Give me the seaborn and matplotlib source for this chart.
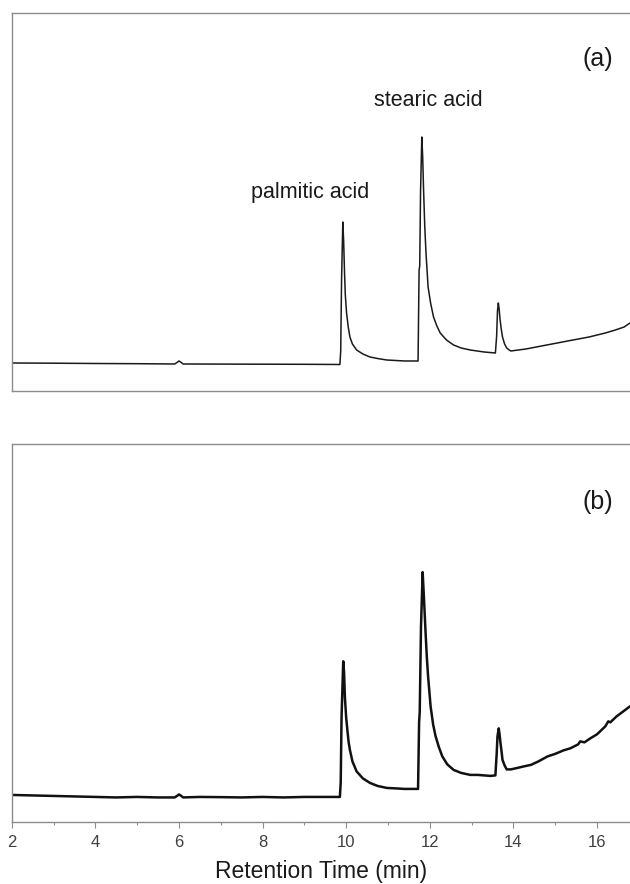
import matplotlib
matplotlib.use("Agg")
import matplotlib.pyplot as plt
import seaborn as sns
import pandas as pd

# retention time (min) and detector signal (arbitrary units)
time_a = [2.0, 3.0, 4.0, 5.0, 5.9, 5.97, 6.0, 6.04, 6.1, 7.0, 8.0, 9.0, 9.85, 9.87, 9.89,
          9.92, 9.94, 9.96, 9.98, 10.01, 10.05, 10.09, 10.15, 10.25, 10.4, 10.57, 10.75,
          10.97, 11.4, 11.72, 11.745, 11.76, 11.78, 11.81, 11.83, 11.85, 11.88, 11.91, 11.96,
          12.02, 12.09, 12.17, 12.25, 12.4, 12.57, 12.75, 12.97, 13.3, 13.57, 13.6, 13.62,
          13.64, 13.66, 13.68, 13.71, 13.74, 13.79, 13.84, 13.9, 13.94, 14.3, 14.8, 15.3,
          15.81, 16.2, 16.44, 16.65, 16.79]
signal_a = [28, 27.8, 27.5, 27.3, 27, 29, 30, 29, 27, 26.9, 26.8, 26.7, 26.5, 40, 110,
            169, 150, 120, 96, 78, 64, 54, 47, 41, 37, 34, 32.5,
            31, 30, 30, 121, 125, 200, 254, 235, 204, 165, 138, 104,
            88, 74, 65, 58, 51, 46, 43, 41, 39, 38, 55, 80,
            88, 82, 72, 62, 54, 47, 43, 41, 40, 42, 46, 50,
            54, 58, 61, 64, 68]

time_b = [2.0, 2.5, 3.0, 3.5, 4.0, 4.5, 5.0, 5.5, 5.9, 5.97, 6.0, 6.04, 6.1, 6.5, 7.0, 7.5,
          8.0, 8.5, 9.0, 9.5, 9.85, 9.87, 9.89, 9.93, 9.95, 9.97, 10.0, 10.03, 10.06, 10.09,
          10.15, 10.25, 10.4, 10.57, 10.75, 10.97, 11.2, 11.4, 11.72, 11.745, 11.76, 11.79,
          11.83, 11.86, 11.90, 11.93, 11.96, 12.02, 12.08, 12.14, 12.22, 12.3, 12.42, 12.57,
          12.75, 12.97, 13.15, 13.3, 13.45, 13.57, 13.6, 13.62, 13.65, 13.67, 13.69, 13.72,
          13.74, 13.79, 13.84, 13.94, 14.1, 14.25, 14.42, 14.6, 14.82, 15.0, 15.2, 15.36,
          15.55, 15.6, 15.7, 15.84, 16.0, 16.1, 16.2, 16.27, 16.32, 16.47, 16.6, 16.79]
signal_b = [27.5, 27, 26.5, 26, 25.5, 25, 25.5, 25, 25, 27, 28, 27, 25, 25.5, 25.3, 25,
            25.5, 25, 25.5, 25.5, 25.5, 40, 105, 161, 150, 125, 105, 92, 80, 72.5,
            61, 51, 44, 39.5, 36.5, 34.5, 34, 33.5, 33.5, 100, 110, 195,
            250, 225, 189.5, 165, 146, 116, 98, 86, 75, 66, 58, 52.5,
            49.5, 47.5, 47.5, 47, 46.5, 47, 68, 86, 94, 88, 80, 70,
            62.5, 57, 53, 53, 54.5, 56, 57.5, 61, 66, 68.5, 72, 74,
            78, 81, 80, 84, 88, 92, 96, 101, 100, 106, 110, 116]

panel_labels = ["(a)", "(b)"]
peak_names = ["palmitic acid", "stearic acid"]
peak_label_pos = [(9.14, 198), (11.96, 290)]

sns.set_theme(style="white")
plt.rcParams["font.family"] = ["Liberation Sans", "DejaVu Sans"]

fig = plt.figure(figsize=(6.3, 8.84), dpi=100)
ax_a = fig.add_axes([0.0186, 0.5577, 0.9814, 0.4276])
ax_b = fig.add_axes([0.0186, 0.0696, 0.9814, 0.4282])

df_a = pd.DataFrame({"time": time_a, "signal": signal_a})
df_b = pd.DataFrame({"time": time_b, "signal": signal_b})

sns.lineplot(data=df_a, x="time", y="signal", ax=ax_a, color="#1a1a1a", linewidth=1.1,
             estimator=None, sort=False)
sns.lineplot(data=df_b, x="time", y="signal", ax=ax_b, color="#111111", linewidth=1.8,
             estimator=None, sort=False)

for ax, lab, ytxt in [(ax_a, panel_labels[0], 332), (ax_b, panel_labels[1], 320)]:
    ax.set_xlim(2, 16.79)
    ax.set_ylim(0, 378)
    ax.set_yticks([])
    ax.set_ylabel("")
    ax.spines["right"].set_visible(False)
    for s in ["left", "top", "bottom"]:
        ax.spines[s].set_color("#8c8c8c")
        ax.spines[s].set_linewidth(1.0)
    ax.text(16.02, ytxt, lab, fontsize=18, color="#1a1a1a", ha="center", va="center")

# top panel: no x ticks
ax_a.set_xticks([])
ax_a.set_xlabel("")
for name, (tx, ty) in zip(peak_names, peak_label_pos):
    ax_a.text(tx, ty, name, fontsize=15.5, color="#1a1a1a", ha="center", va="center")

# bottom panel axis
ax_b.set_xticks([2, 4, 6, 8, 10, 12, 14, 16])
ax_b.set_xticks([3, 5, 7, 9, 11, 13, 15], minor=True)
ax_b.tick_params(axis="x", which="major", direction="out", length=4, width=0.8,
                 color="#8c8c8c", labelsize=12, labelcolor="#404040", pad=5, bottom=True)
ax_b.tick_params(axis="x", which="minor", direction="out", length=2.5, width=0.8,
                 color="#8c8c8c", bottom=True)
ax_b.set_xlabel("Retention Time (min)", fontsize=16.5, color="#1a1a1a", labelpad=7)

fig.savefig("out.png", dpi=100)
